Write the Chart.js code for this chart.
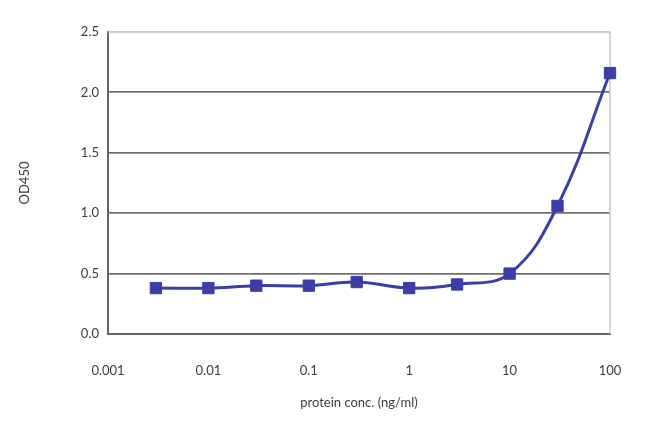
<!DOCTYPE html>
<html>
<head>
<meta charset="utf-8">
<script src="https://cdn.jsdelivr.net/npm/chart.js@4.4.0/dist/chart.umd.min.js"></script>
<style>
  html, body { margin: 0; padding: 0; background: #fff; }
  #wrap { width: 650px; height: 433px; }
</style>
</head>
<body>
<div id="wrap"><canvas id="chart" width="650" height="433"></canvas></div>
<script>
// protein concentration (ng/ml) and measured OD450
const conc = [0.003, 0.01, 0.03, 0.1, 0.3, 1, 3, 10, 30, 100];
const od450 = [0.38, 0.38, 0.40, 0.40, 0.43, 0.38, 0.41, 0.50, 1.06, 2.16];
const xTicks = [0.001, 0.01, 0.1, 1, 10, 100];
const xTickLabels = ['0.001', '0.01', '0.1', '1', '10', '100'];
const yTicks = [0, 0.5, 1.0, 1.5, 2.0, 2.5];

const lineColor = '#3b3ea6';
const textColor = '#3c3c3c';
const font = { family: 'Lato, "Open Sans", sans-serif', size: 13 };

// light frame round the plot area, like the spreadsheet original
const plotFrame = {
  id: 'plotFrame',
  beforeDatasetsDraw(chart) {
    const { ctx, chartArea: a } = chart;
    ctx.save();
    ctx.strokeStyle = '#c8c8c8';
    ctx.lineWidth = 1.5;
    ctx.beginPath();
    ctx.moveTo(a.left, a.top);
    ctx.lineTo(a.right, a.top);
    ctx.lineTo(a.right, a.bottom);
    ctx.stroke();
    ctx.restore();
  }
};

new Chart(document.getElementById('chart'), {
  type: 'line',
  data: {
    datasets: [{
      data: conc.map((c, i) => ({ x: c, y: od450[i] })),
      borderColor: lineColor,
      backgroundColor: lineColor,
      borderWidth: 3,
      tension: 0.4,
      pointStyle: 'rect',
      pointRadius: 8,
      pointBorderWidth: 1,
      clip: false,
      fill: false
    }]
  },
  options: {
    responsive: false,
    animation: false,
    layout: { padding: { left: 0, right: 40, top: 32, bottom: 0 } },
    plugins: { legend: { display: false }, tooltip: { enabled: false } },
    scales: {
      x: {
        type: 'logarithmic',
        min: 0.001,
        max: 100,
        afterBuildTicks: s => { s.ticks = xTicks.map(v => ({ value: v })); },
        afterFit: s => { s.height = 99; },
        grid: { display: false },
        border: { display: true, color: '#666', width: 2 },
        ticks: {
          color: textColor,
          font: font,
          padding: 21,
          maxRotation: 0,
          callback: (v, i) => xTickLabels[i]
        },
        title: {
          display: true,
          text: 'protein conc. (ng/ml)',
          color: textColor,
          font: font,
          padding: { top: 0, bottom: 22 }
        }
      },
      y: {
        min: 0,
        max: 2.5,
        afterBuildTicks: s => { s.ticks = yTicks.map(v => ({ value: v })); },
        afterFit: s => { s.width = 108; },
        grid: {
          color: ctx => ctx.tick.value === 2.5 ? '#c8c8c8' : '#707070',
          lineWidth: 1.8,
          drawTicks: false
        },
        border: { display: true, color: '#666', width: 2 },
        ticks: {
          color: textColor,
          font: font,
          padding: 9,
          callback: v => v.toFixed(1)
        },
        title: {
          display: true,
          text: 'OD450',
          color: textColor,
          font: font,
          padding: { top: 17, bottom: 0 }
        }
      }
    }
  },
  plugins: [plotFrame]
});
</script>
</body>
</html>
